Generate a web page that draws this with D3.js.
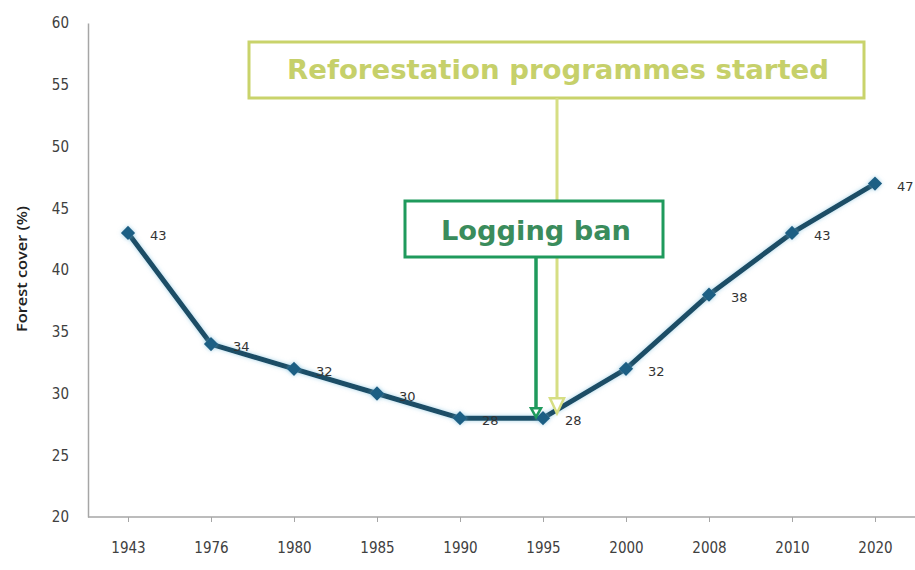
<!DOCTYPE html>
<html><head><meta charset="utf-8">
<script src="https://cdn.jsdelivr.net/npm/d3@7/dist/d3.min.js"></script>
<style>body{margin:0;background:#fff}</style>
</head><body><svg id="c" width="915" height="570"></svg>
<script>
const years = ["1943","1976","1980","1985","1990","1995","2000","2008","2010","2020"];
const forestCover = [43,34,32,30,28,28,32,38,43,47];
const yTicks = [20,25,30,35,40,45,50,55,60];
const yTitle = "Forest cover (%)";
const notes = [
  {text:"Reforestation programmes started", at:"1995"},
  {text:"Logging ban", at:"1995"}
];

const svg = d3.select("#c");
const x = d3.scalePoint().domain(years).range([128,875]);
const y = d3.scaleLinear().domain([20,60]).range([517,23]);
const tickFont = "'Liberation Sans Narrow','DejaVu Sans Condensed',sans-serif";

const defs = svg.append("defs");
const f = defs.append("filter").attr("id","glow").attr("x","-50%").attr("y","-50%").attr("width","200%").attr("height","200%");
f.append("feGaussianBlur").attr("in","SourceAlpha").attr("stdDeviation",2).attr("result","b");
f.append("feFlood").attr("flood-color","#6fb7d8").attr("flood-opacity",0.6);
f.append("feComposite").attr("in2","b").attr("operator","in").attr("result","g");
const m = f.append("feMerge"); m.append("feMergeNode").attr("in","g"); m.append("feMergeNode").attr("in","SourceGraphic");

// axes
const yAxis = svg.append("g").attr("transform","translate(88,0)")
  .call(d3.axisLeft(y).tickValues(yTicks).tickSize(0).tickPadding(19));
yAxis.select(".domain").attr("stroke","#a6a6a6").attr("stroke-width",1.5);
yAxis.selectAll("text").attr("font-family",tickFont).attr("font-size",15).attr("fill","#404040");

const xAxis = svg.append("g").attr("transform","translate(0,517)")
  .call(d3.axisBottom(x).tickSize(5).tickPadding(20).tickSizeOuter(0));
xAxis.select(".domain").attr("d","M88,0H915").attr("stroke","#a6a6a6").attr("stroke-width",1.5);
xAxis.selectAll(".tick line").attr("stroke","#a6a6a6");
xAxis.selectAll("text").attr("font-family",tickFont).attr("font-size",15).attr("fill","#404040");

svg.append("text").attr("transform","translate(27,269) rotate(-90)")
  .attr("text-anchor","middle").attr("font-family","'Open Sans',sans-serif")
  .attr("font-size",14).attr("font-weight",600).attr("fill","#222")
  .attr("textLength",126).attr("lengthAdjust","spacingAndGlyphs").text(yTitle);

// line
const line = d3.line().x((d,i)=>x(years[i])).y(d=>y(d));
svg.append("path").datum(forestCover).attr("d",line).attr("fill","none")
  .attr("stroke","#1b4d66").attr("stroke-width",5).attr("stroke-linejoin","round")
  .attr("filter","url(#glow)");

svg.selectAll(".mk").data(forestCover).join("path").attr("class","mk")
  .attr("transform",(d,i)=>`translate(${x(years[i])},${y(d)})`)
  .attr("d",d3.symbol().type(d3.symbolDiamond2).size(130))
  .attr("fill","#1e5f84").attr("filter","url(#glow)");

svg.selectAll(".lbl").data(forestCover).join("text").attr("class","lbl")
  .attr("x",(d,i)=>x(years[i])+22).attr("y",d=>y(d)+7)
  .attr("font-family","'DejaVu Sans',Verdana,sans-serif").attr("font-size",13)
  .attr("fill","#333").text(d=>d);

// annotations
const xa = x(notes[0].at);
// Reforestation
const c1 = "#c9d36b";
svg.append("rect").attr("x",249).attr("y",42).attr("width",615).attr("height",56)
  .attr("fill","#fff").attr("stroke",c1).attr("stroke-width",3);
svg.append("text").attr("x",558).attr("y",79).attr("text-anchor","middle")
  .attr("font-family","'DejaVu Sans',Verdana,sans-serif").attr("font-weight","bold")
  .attr("font-size",27).attr("fill","#c6d06a")
  .attr("textLength",542).attr("lengthAdjust","spacingAndGlyphs").text(notes[0].text);
const ax1 = xa+14, tip1 = y(28)-5;
svg.append("line").attr("x1",ax1).attr("x2",ax1).attr("y1",98).attr("y2",tip1-14)
  .attr("stroke","#d6de83").attr("stroke-width",3);
svg.append("path").attr("d",`M${ax1-7},${tip1-15}L${ax1+7},${tip1-15}L${ax1},${tip1}Z`)
  .attr("fill","#fff").attr("stroke","#d6de83").attr("stroke-width",2.5);

// Logging ban
const c2 = "#1f9a5c";
const ax2 = xa-7, tip2 = y(28)-1;
svg.append("line").attr("x1",ax2).attr("x2",ax2).attr("y1",257).attr("y2",tip2-8)
  .attr("stroke",c2).attr("stroke-width",3.5);
svg.append("path").attr("d",`M${ax2-5},${tip2-9}L${ax2+5},${tip2-9}L${ax2},${tip2}Z`)
  .attr("fill","#fff").attr("stroke",c2).attr("stroke-width",2.5);
svg.append("rect").attr("x",405).attr("y",201).attr("width",258).attr("height",56)
  .attr("fill","#fff").attr("stroke",c2).attr("stroke-width",3);
svg.append("text").attr("x",536).attr("y",240).attr("text-anchor","middle")
  .attr("font-family","'DejaVu Sans',Verdana,sans-serif").attr("font-weight","bold")
  .attr("font-size",26).attr("fill","#3a8c5c")
  .attr("textLength",190).attr("lengthAdjust","spacingAndGlyphs").text(notes[1].text);
</script></body></html>
